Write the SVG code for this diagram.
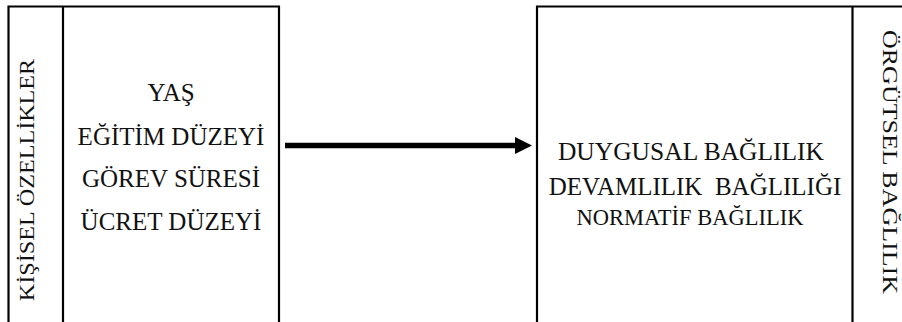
<svg xmlns="http://www.w3.org/2000/svg" width="902" height="322" viewBox="0 0 902 322">
<style>
.ln{stroke:#000;stroke-width:2.2;fill:none}
.t{font-family:"Liberation Serif","Times New Roman",serif;fill:#111;text-anchor:middle}
.a{font-size:25px}
.b{font-size:25.5px}
.c{font-size:22.5px}
</style>
<defs>
<marker id="ah" markerUnits="userSpaceOnUse" markerWidth="18" markerHeight="18" refX="0" refY="8.5" orient="auto" viewBox="0 0 18 18">
<path d="M0,0 L17,8.5 L0,17 Z" fill="#000"/>
</marker>
</defs>
<g id="node-kisisel">
<path class="ln" d="M8.5,322 V6.5 H279 V322 M63,6.5 V322"/>
<text class="t" font-size="21" transform="translate(34,180) rotate(-90) scale(1.15,1)">KİŞİSEL ÖZELLİKLER</text>
<text class="t a" x="171" y="101">YAŞ</text>
<text class="t a" x="171" y="145">EĞİTİM DÜZEYİ</text>
<text class="t a" x="171" y="187">GÖREV SÜRESİ</text>
<text class="t a" x="171" y="230">ÜCRET DÜZEYİ</text>
</g>
<g id="node-orgutsel">
<path class="ln" d="M537,322 V6.5 H902 M852.5,6.5 V322"/>
<text class="t" font-size="20" transform="translate(883,162) rotate(90) scale(1.3,1)">ÖRGÜTSEL BAĞLILIK</text>
<text class="t b" x="691" y="160" xml:space="preserve">DUYGUSAL BAĞLILIK</text>
<text class="t" font-size="25" x="695" y="195" xml:space="preserve">DEVAMLILIK  BAĞLILIĞI</text>
<text class="t c" x="690" y="225">NORMATİF BAĞLILIK</text>
</g>
<g id="connectors">
<line x1="285" y1="145.5" x2="515" y2="145.5" stroke="#000" stroke-width="5.5" marker-end="url(#ah)"/>
</g>
</svg>
